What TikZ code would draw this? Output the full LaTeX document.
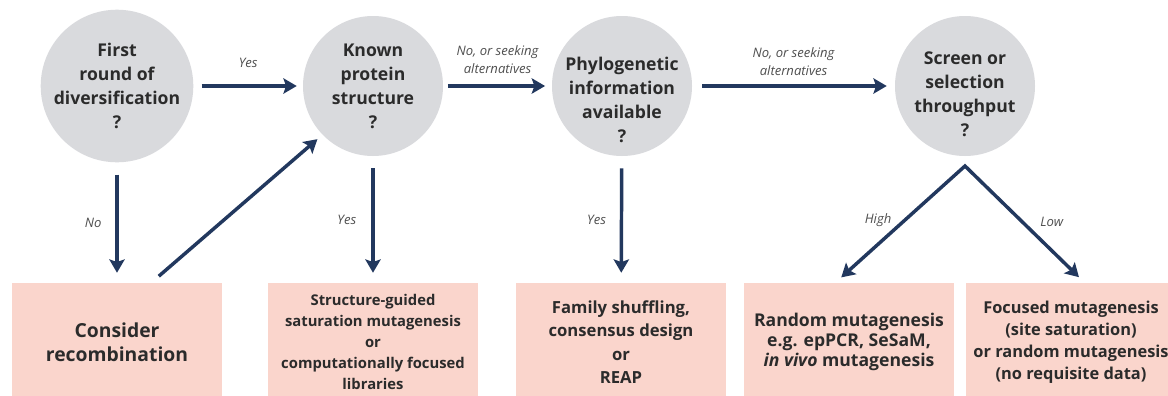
\documentclass[tikz,border=0pt]{standalone}
\usepackage{fontspec}
\setmainfont{Open Sans}
\usetikzlibrary{arrows.meta, positioning, calc}
\definecolor{qGray}{HTML}{D9DADD}
\definecolor{optPink}{HTML}{FAD5CC}
\definecolor{arrNavy}{HTML}{22385E}
\definecolor{txtDark}{HTML}{2B2B2B}
\definecolor{lblGray}{HTML}{4F4F4F}

\begin{document}
\begin{tikzpicture}[x=0.75pt, y=-0.75pt,
      qtxt/.style={align=center, font=\bfseries\fontsize{13.2}{18}\selectfont, text=txtDark},
      q/.style={circle, fill=qGray, minimum size=105pt, inner sep=0pt, qtxt},
      opt/.style={fill=optPink, minimum width=157.5pt, minimum height=88.5pt, inner sep=0pt,
                  align=center, text=txtDark},
      arr/.style={-{Stealth[length=10pt, width=11.5pt, inset=2pt]}, line width=2.6pt, arrNavy},
      lbl/.style={font=\itshape\fontsize{9.8}{13.5}\selectfont, text=lblGray, align=center}]
    \clip (0,0) rectangle (1168,396);
    \fill[white] (0,0) rectangle (1168,396);
    % questions
    \node[q] (first)  at (117,86) {First\\round of\\diversification\\?};
    \node[q] (known)  at (373,86) {Known\\protein\\structure\\?};
    \node[q, label={[qtxt, name=phyloTxt, yshift=-10.5pt]center:Phylogenetic\\information\\available\\?}]
      (phylo) at (622,86) {};
    \node[q, label={[qtxt, name=screenTxt, yshift=-6pt]center:Screen or\\selection\\throughput\\?}]
      (screen) at (965,86) {};
    % options
    \node[opt, font=\bfseries\fontsize{14.5}{18}\selectfont]   (recomb) at (117,342)
      {Consider\\recombination};
    \node[opt, font=\bfseries\fontsize{11.1}{15.8}\selectfont] (struct) at (373,342)
      {Structure-guided\\saturation mutagenesis\\or\\computationally focused\\libraries};
    \node[opt, font=\bfseries\fontsize{12.5}{17.5}\selectfont] (family) at (621,342)
      {Family shuffling,\\consensus design\\or\\REAP};
    \node[opt, font=\bfseries\fontsize{13.2}{15}\selectfont]   (random) at (849,342)
      {Random mutagenesis\\e.g. epPCR, SeSaM,\\\textit{in vivo} mutagenesis};
    \node[opt, font=\bfseries\fontsize{12.3}{16.5}\selectfont] (focus)  at (1071,342)
      {Focused mutagenesis\\(site saturation)\\or random mutagenesis\\(no requisite data)};
    \coordinate (fork) at (965,166);
    % connectors
    \draw[arr, shorten <=6pt, shorten >=4.5pt] (first) -- node[lbl, above=9pt] (yes1) {Yes} (known);
    \draw[arr, shorten <=3.5pt, shorten >=5pt] (known) -- node[lbl, above=5pt] (alt1) {No, or seeking\\alternatives} (phylo);
    \draw[arr, shorten <=7.5pt, shorten >=6pt] (phylo) -- node[lbl, above=3pt] (alt2) {No, or seeking\\alternatives} (screen);
    \draw[arr, shorten <=9pt, shorten >=7.5pt] (first) -- node[lbl, left=7pt] (no1) {No} (recomb);
    \draw[arr, shorten <=9pt, shorten >=7.5pt] (known) -- node[lbl, left=8pt] (yes2) {Yes} (struct);
    \draw[arr, shorten <=9pt, shorten >=7.5pt] (phylo) -- node[lbl, left=7pt] (yes3) {Yes} (family);
    \draw[arr, shorten <=7.5pt, shorten >=5pt] (recomb.60) -- (known.224);
    \draw[arr, {Stealth[length=10pt, width=11.5pt, inset=2pt]}-{Stealth[length=10pt, width=11.5pt, inset=2pt]},
          shorten <=6pt, shorten >=6pt]
          (random.103) -- node[lbl, pos=0.5, above left=-6pt and 2pt] (high) {High}
          (fork) -- node[lbl, pos=0.5, above right=-6pt and 7pt] (low) {Low} (focus.77);
\end{tikzpicture}
\end{document}
